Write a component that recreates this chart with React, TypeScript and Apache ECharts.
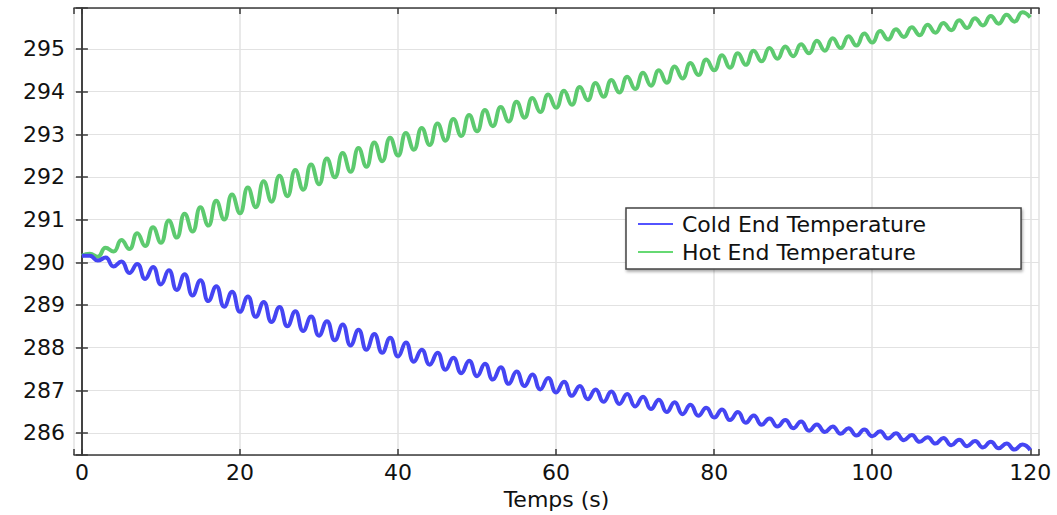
import React, { useEffect, useRef } from "react";
import * as echarts from "echarts";

// Sample times (s): one sample per second, 0..120 (peaks at odd seconds, troughs at even seconds)
const times: number[] = Array.from({ length: 121 }, (_, i) => i);

const coldEnd: number[] = [
  290.15, 290.15, 290.04, 290.11, 289.90, 290.02, 289.75, 289.96, 289.61, 289.89,
  289.48, 289.81, 289.35, 289.72, 289.22, 289.58, 289.09, 289.44, 288.96, 289.31,
  288.84, 289.20, 288.72, 289.07, 288.60, 288.95, 288.50, 288.85, 288.39, 288.73,
  288.28, 288.62, 288.17, 288.54, 288.05, 288.42, 287.95, 288.32, 287.88, 288.23,
  287.79, 288.12, 287.67, 287.95, 287.60, 287.88, 287.48, 287.76, 287.40, 287.69,
  287.33, 287.62, 287.25, 287.54, 287.15, 287.44, 287.10, 287.37, 287.02, 287.29,
  286.95, 287.20, 286.87, 287.10, 286.79, 287.02, 286.73, 286.97, 286.68, 286.91,
  286.62, 286.85, 286.56, 286.78, 286.49, 286.72, 286.44, 286.66, 286.40, 286.59,
  286.36, 286.55, 286.30, 286.49, 286.24, 286.41, 286.19, 286.34, 286.15, 286.30,
  286.11, 286.27, 286.05, 286.20, 286.02, 286.15, 285.98, 286.11, 285.94, 286.08,
  285.92, 286.04, 285.87, 285.99, 285.83, 285.95, 285.79, 285.90, 285.75, 285.88,
  285.71, 285.84, 285.69, 285.81, 285.66, 285.79, 285.64, 285.75, 285.61, 285.73,
  285.60,
];

const hotEnd: number[] = [
  290.15, 290.20, 290.13, 290.34, 290.25, 290.52, 290.31, 290.68, 290.38, 290.82,
  290.46, 290.98, 290.58, 291.14, 290.72, 291.29, 290.86, 291.44, 291.00, 291.59,
  291.15, 291.75, 291.29, 291.90, 291.42, 292.03, 291.55, 292.16, 291.70, 292.29,
  291.83, 292.43, 291.99, 292.56, 292.12, 292.68, 292.24, 292.81, 292.37, 292.92,
  292.50, 293.03, 292.64, 293.15, 292.75, 293.25, 292.85, 293.36, 292.96, 293.45,
  293.07, 293.57, 293.19, 293.64, 293.30, 293.76, 293.39, 293.85, 293.52, 293.93,
  293.62, 294.02, 293.69, 294.11, 293.80, 294.20, 293.88, 294.27, 293.98, 294.35,
  294.06, 294.44, 294.14, 294.50, 294.21, 294.59, 294.31, 294.67, 294.39, 294.75,
  294.50, 294.85, 294.56, 294.90, 294.63, 294.96, 294.71, 295.02, 294.77, 295.06,
  294.83, 295.11, 294.90, 295.19, 294.96, 295.25, 295.02, 295.30, 295.08, 295.36,
  295.15, 295.42, 295.22, 295.46, 295.28, 295.51, 295.32, 295.57, 295.38, 295.61,
  295.44, 295.67, 295.49, 295.72, 295.55, 295.77, 295.59, 295.80, 295.64, 295.86,
  295.74,
];

const seriesNames: string[] = ["Cold End Temperature", "Hot End Temperature"];
const xAxisName = "Temps (s)";
const xTickStep = 20;
const yTickStep = 1;

const FONT = "DejaVu Sans";

export default function App() {
  const ref = useRef<HTMLDivElement>(null);

  useEffect(() => {
    if (!ref.current) return;
    const chart = echarts.init(ref.current, undefined, { renderer: "svg" });

    const xMin = -1;
    const xMax = 121.1;
    const yMin = 285.48;
    const yMax = 295.96;

    const axisLineStyle = { color: "#3a3a3a", width: 1.5 };
    const isMultiple = (v: number, step: number) =>
      Math.abs(v / step - Math.round(v / step)) < 1e-6;

    const option: echarts.EChartsOption = {
      animation: false,
      backgroundColor: "#ffffff",
      textStyle: { fontFamily: FONT },
      grid: { left: 74, right: 18, top: 8, bottom: 47, containLabel: false },
      legend: {
        orient: "vertical",
        left: 626,
        top: 208,
        padding: [5, 95, 6, 12],
        itemWidth: 35,
        itemHeight: 1.5,
        itemGap: 6,
        icon: "rect",
        backgroundColor: "#ffffff",
        borderColor: "#444444",
        borderWidth: 1.5,
        shadowColor: "rgba(0,0,0,0.35)",
        shadowBlur: 3,
        shadowOffsetX: 1,
        shadowOffsetY: 2,
        textStyle: {
          fontFamily: FONT,
          fontSize: 22,
          color: "#111111",
          lineHeight: 22,
          padding: [0, 0, 0, 4],
        },
        data: [
          { name: seriesNames[0], itemStyle: { color: "#1a1aff" } },
          { name: seriesNames[1], itemStyle: { color: "#33cc44" } },
        ],
      },
      xAxis: [
        {
          type: "value",
          min: xMin,
          max: xMax,
          splitNumber: 6,
          position: "bottom",
          name: xAxisName,
          nameLocation: "middle",
          nameGap: 26,
          nameTextStyle: { fontFamily: FONT, fontSize: 22, color: "#111111" },
          axisLine: { show: true, lineStyle: axisLineStyle },
          axisTick: { show: true, inside: true, length: 6, lineStyle: axisLineStyle },
          axisLabel: {
            fontFamily: FONT,
            fontSize: 22,
            color: "#111111",
            margin: 6,
            formatter: (v: number) => (isMultiple(v, xTickStep) ? String(Math.round(v)) : ""),
          },
          splitLine: { show: true, lineStyle: { color: "#e2e2e2", width: 1.5 } },
        },
        {
          type: "value",
          min: xMin,
          max: xMax,
          splitNumber: 6,
          position: "top",
          axisLine: { show: true, lineStyle: axisLineStyle },
          axisTick: { show: true, inside: true, length: 6, lineStyle: axisLineStyle },
          axisLabel: { show: false },
          splitLine: { show: false },
        },
      ],
      yAxis: [
        {
          type: "value",
          min: yMin,
          max: yMax,
          splitNumber: 10,
          position: "left",
          axisLine: { show: true, lineStyle: axisLineStyle },
          axisTick: { show: true, inside: true, length: 6, lineStyle: axisLineStyle },
          axisLabel: {
            fontFamily: FONT,
            fontSize: 22,
            color: "#111111",
            margin: 9,
            formatter: (v: number) => (isMultiple(v, yTickStep) ? String(Math.round(v)) : ""),
          },
          splitLine: { show: true, lineStyle: { color: "#e2e2e2", width: 1.2 } },
        },
        {
          type: "value",
          min: yMin,
          max: yMax,
          splitNumber: 10,
          position: "right",
          axisLine: { show: true, lineStyle: axisLineStyle },
          axisTick: { show: true, inside: true, length: 6, lineStyle: axisLineStyle },
          axisLabel: { show: false },
          splitLine: { show: false },
        },
      ],
      series: [
        {
          name: seriesNames[0],
          type: "line",
          xAxisIndex: 0,
          yAxisIndex: 0,
          data: times.map((t, i) => [t, coldEnd[i]]),
          symbol: "none",
          smooth: 0.5,
          lineStyle: { color: "#4545f3", width: 4 },
          itemStyle: { color: "#4545f3" },
          z: 3,
        },
        {
          name: seriesNames[1],
          type: "line",
          xAxisIndex: 0,
          yAxisIndex: 0,
          data: times.map((t, i) => [t, hotEnd[i]]),
          symbol: "none",
          smooth: 0.5,
          lineStyle: { color: "#5dca6f", width: 4 },
          itemStyle: { color: "#5dca6f" },
          z: 2,
        },
      ],
    };

    chart.setOption(option);
    return () => chart.dispose();
  }, []);

  return (
    <div
      ref={ref}
      style={{ position: "absolute", left: 0, top: 0, width: 1057, height: 515 }}
    />
  );
}
